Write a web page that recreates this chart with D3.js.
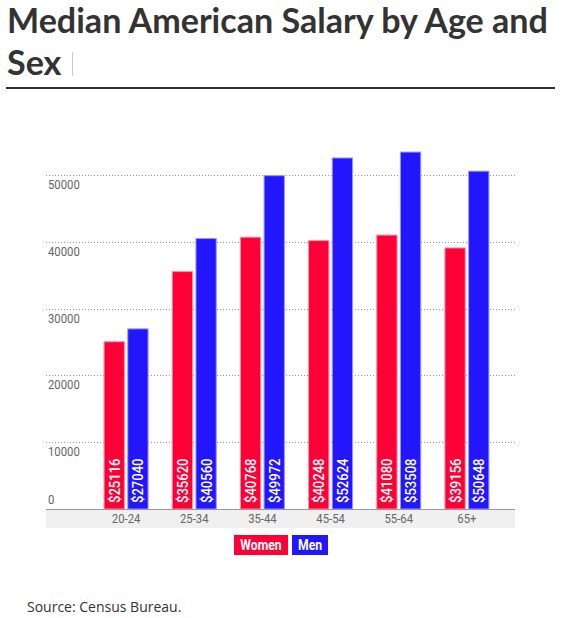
<!DOCTYPE html>
<html>
<head>
<meta charset="utf-8">
<script src="https://cdn.jsdelivr.net/npm/d3@7"></script>
<style>
  body { margin: 0; background: #fff; }
  .narrow { font-family: Roboto, "Liberation Sans", sans-serif; }
</style>
</head>
<body>
<div id="chart"></div>
<script>
const ageGroups = ["20-24", "25-34", "35-44", "45-54", "55-64", "65+"];
const series = ["Women", "Men"];
const women = [25116, 35620, 40768, 40248, 41080, 39156];
const men = [27040, 40560, 49972, 52624, 53508, 50648];
const yTicks = [0, 10000, 20000, 30000, 40000, 50000];
const colors = ["#ff0036", "#2216ff"];
const strokes = ["#ff8fa5", "#9a94ff"];

const width = 562, height = 618;
const squeeze = 0.87; // fake a condensed face

const svg = d3.select("#chart").append("svg")
  .attr("width", width)
  .attr("height", height);

// title
const t1 = svg.append("text")
  .attr("x", 7).attr("y", 33)
  .style("font-family", "Lato, 'Open Sans', sans-serif")
  .style("font-weight", "bold")
  .style("font-size", "36px")
  .attr("fill", "#333")
  .text("Median American Salary by Age and");
const fs = 36 * 541 / t1.node().getComputedTextLength();
t1.style("font-size", fs + "px");
svg.append("text")
  .attr("x", 7).attr("y", 75)
  .style("font-family", "Lato, 'Open Sans', sans-serif")
  .style("font-weight", "bold")
  .style("font-size", fs + "px")
  .attr("fill", "#333")
  .text("Sex");

// little cursor mark after "Sex"
svg.append("line")
  .attr("x1", 72.5).attr("x2", 72.5)
  .attr("y1", 52).attr("y2", 76)
  .attr("stroke", "#ccc")
  .attr("stroke-width", 1);

svg.append("line")
  .attr("x1", 6).attr("x2", 555)
  .attr("y1", 88).attr("y2", 88)
  .attr("stroke", "#333")
  .attr("stroke-width", 2);

// scales
const plotLeft = 46, plotRight = 515, baseline = 509;

const y = d3.scaleLinear().domain([0, 50000]).range([baseline, 175]);

const x0 = d3.scaleBand()
  .domain(ageGroups)
  .range([92, 501])
  .paddingInner(0.34)
  .paddingOuter(0.17);

const x1 = d3.scaleBand()
  .domain(series)
  .range([0, x0.bandwidth()])
  .paddingInner(0.1);

// axis strip
svg.append("rect")
  .attr("x", plotLeft).attr("y", baseline)
  .attr("width", plotRight - plotLeft).attr("height", 19)
  .attr("fill", "#f0f0f0");

// grid lines
svg.selectAll(".grid")
  .data(yTicks.filter(d => d > 0))
  .enter().append("line")
  .attr("class", "grid")
  .attr("x1", plotLeft).attr("x2", plotRight)
  .attr("y1", d => Math.round(y(d)) + 0.5)
  .attr("y2", d => Math.round(y(d)) + 0.5)
  .attr("stroke", "#999")
  .attr("stroke-dasharray", "1,2");

svg.selectAll(".ytick")
  .data(yTicks)
  .enter().append("text")
  .attr("class", "ytick narrow")
  .attr("transform", d => `translate(48,${Math.min(y(d) + 14, baseline - 5)}) scale(${squeeze},1)`)
  .style("font-size", "13px")
  .attr("fill", "#666")
  .text(d => d);

// bars
const rows = ageGroups.map((g, i) => ({ group: g, values: [women[i], men[i]] }));

const groups = svg.selectAll(".group")
  .data(rows)
  .enter().append("g")
  .attr("class", "group")
  .attr("transform", d => `translate(${x0(d.group)},0)`);

const bars = groups.selectAll(".bar")
  .data(d => d.values.map((v, j) => ({ key: series[j], value: v, j })))
  .enter().append("g")
  .attr("class", "bar");

bars.append("rect")
  .attr("x", d => x1(d.key) + 0.5)
  .attr("y", d => y(d.value) + 0.5)
  .attr("width", x1.bandwidth() - 1)
  .attr("height", d => baseline - y(d.value) - 0.5)
  .attr("fill", d => colors[d.j])
  .attr("stroke", d => strokes[d.j])
  .attr("stroke-width", 1);

bars.append("text")
  .attr("class", "narrow")
  .attr("transform", d => `translate(${x1(d.key) + x1.bandwidth() / 2 + 5.5},${baseline - 6}) rotate(-90) scale(${squeeze},1)`)
  .style("font-size", "15px")
  .style("font-weight", 500)
  .attr("fill", "#fff")
  .text(d => "$" + d.value);

// baseline
svg.append("line")
  .attr("x1", plotLeft).attr("x2", plotRight)
  .attr("y1", baseline + 0.5).attr("y2", baseline + 0.5)
  .attr("stroke", "#999")
  .attr("stroke-width", 1);

svg.selectAll(".xtick")
  .data(ageGroups)
  .enter().append("text")
  .attr("class", "xtick narrow")
  .attr("transform", d => `translate(${x0(d) + x0.bandwidth() / 2},523) scale(${squeeze},1)`)
  .attr("text-anchor", "middle")
  .style("font-size", "13px")
  .attr("fill", "#666")
  .text(d => d);

// legend
const legendBoxes = [{ x: 234, w: 54 }, { x: 292, w: 36 }];
const legend = svg.selectAll(".legend")
  .data(series)
  .enter().append("g")
  .attr("class", "legend")
  .attr("transform", (d, i) => `translate(${legendBoxes[i].x},535)`);

legend.append("rect")
  .attr("width", (d, i) => legendBoxes[i].w)
  .attr("height", 20)
  .attr("fill", (d, i) => colors[i]);

legend.append("text")
  .attr("class", "narrow")
  .attr("transform", (d, i) => `translate(${legendBoxes[i].w / 2},15) scale(${squeeze},1)`)
  .attr("text-anchor", "middle")
  .style("font-size", "14px")
  .style("font-weight", "bold")
  .attr("fill", "#fff")
  .text(d => d);

svg.append("text")
  .attr("x", 27).attr("y", 612)
  .style("font-family", "'Open Sans', sans-serif")
  .style("font-size", "14px")
  .attr("fill", "#333")
  .text("Source: Census Bureau.");
</script>
</body>
</html>
